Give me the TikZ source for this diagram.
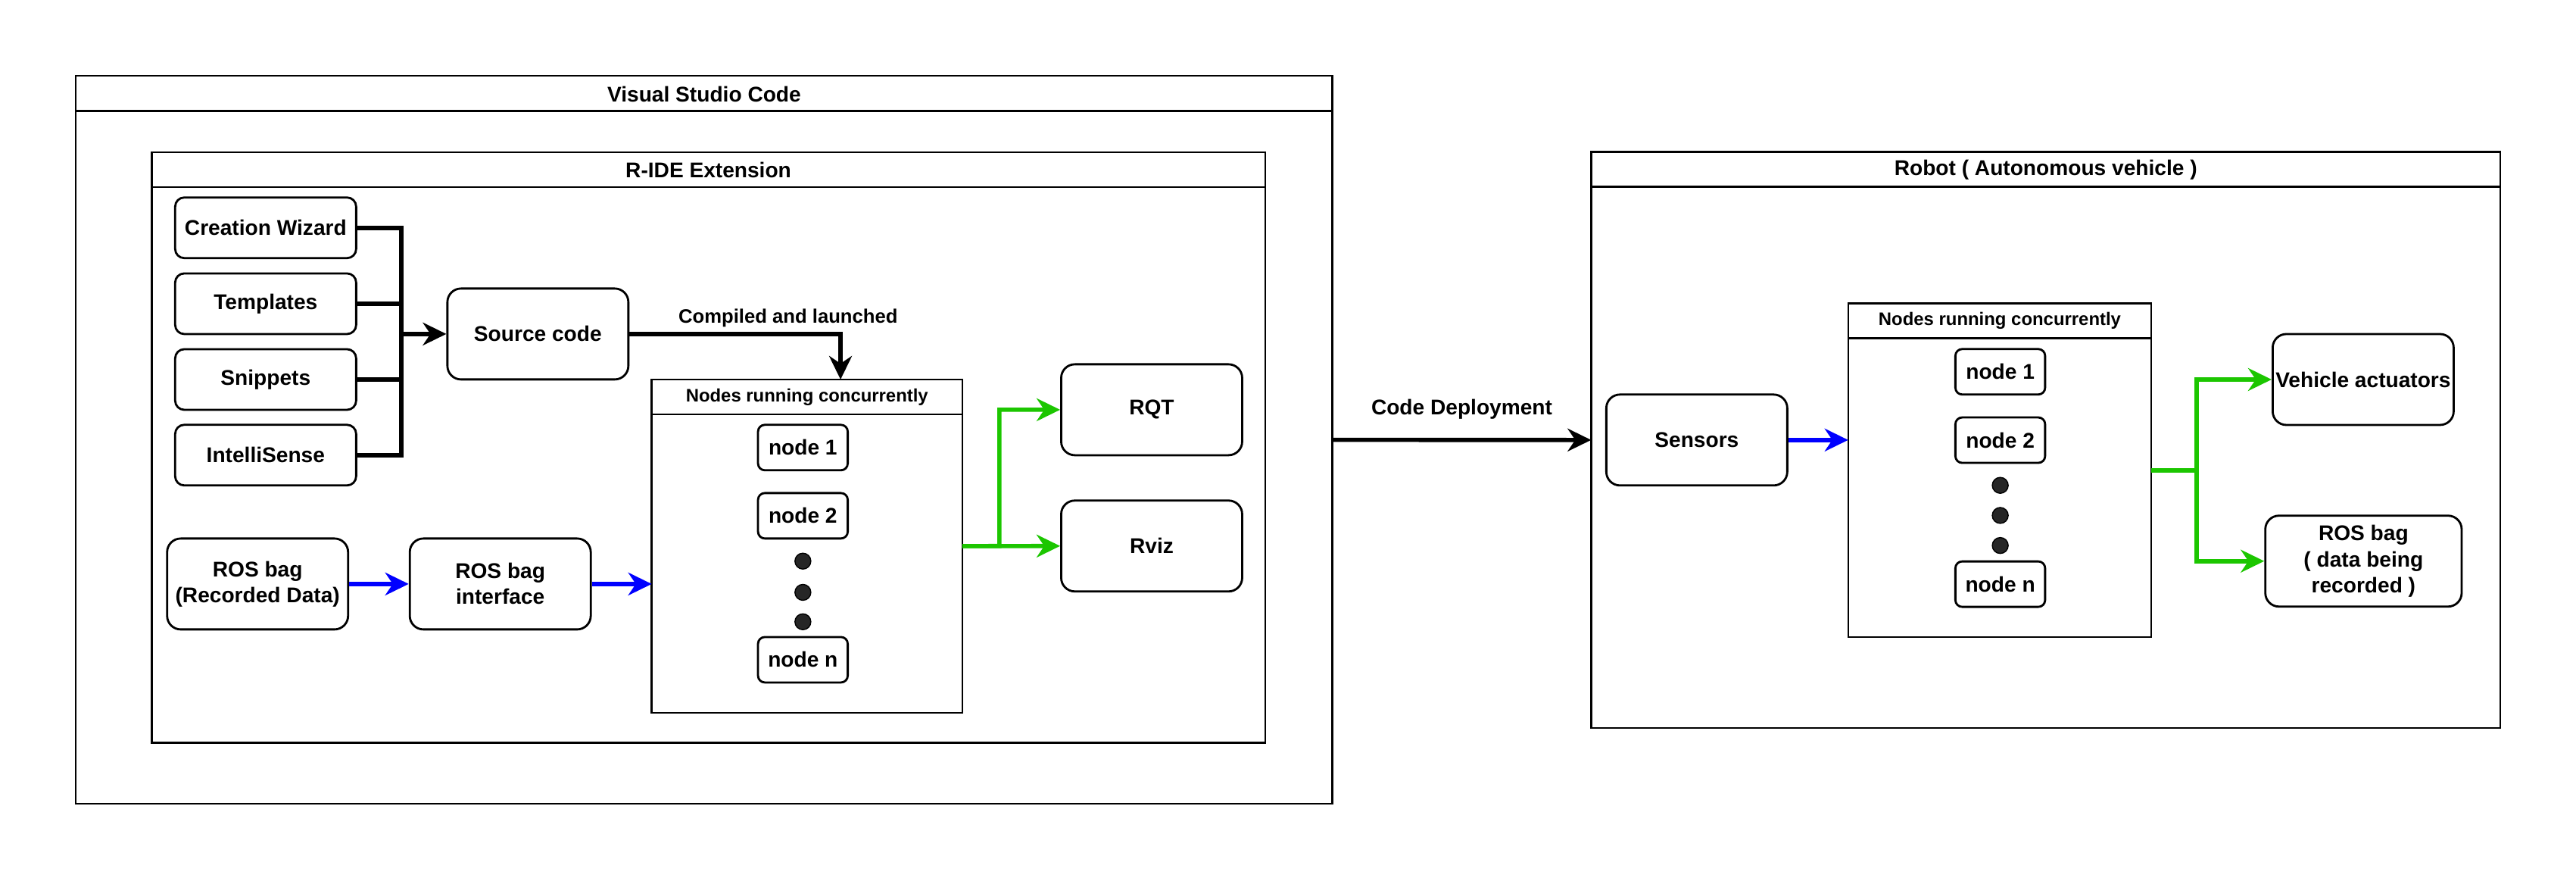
\documentclass[tikz,border=0pt]{standalone}
\usepackage{fontspec}
\setmainfont{Liberation Sans}
\usetikzlibrary{arrows.meta}
\definecolor{arrblue}{RGB}{0,0,255}
\definecolor{arrgreen}{RGB}{28,198,0}

\begin{document}
\begin{tikzpicture}[x=0.21697mm, y=-0.21697mm]
      \tikzstyle{STY1} = [draw, rectangle, rounded corners=1.8mm, line width=0.8pt, minimum width=23.9mm, minimum height=12mm, inner sep=0.2mm, align=center, font=\bfseries\fontsize{8}{9.7}\selectfont]
      \tikzstyle{STY2} = [STY1, rounded corners=1.2mm, minimum height=8mm]
      \tikzstyle{STY3} = [STY1, rounded corners=0.9mm, minimum width=11.85mm, minimum height=6mm]
      \tikzstyle{STY4} = [draw, rectangle, line width=0.7pt, inner sep=0pt, outer sep=0pt]
      \tikzstyle{STY5} = [inner sep=0pt, font=\bfseries\fontsize{8}{9.7}\selectfont]
      \tikzstyle{STY6} = [inner sep=0pt, font=\bfseries\fontsize{6.8}{8}\selectfont]
      \tikzstyle{STY7} = [circle, draw=black, fill=black!85, line width=0.4pt, minimum size=2.1mm, inner sep=0pt]
      \tikzstyle{STY8} = [line width=1.6pt]
      \tikzstyle{STY9} = [STY8, -{Stealth[length=3.1mm, width=3mm, inset=1mm]}]
      \tikzstyle{STY10} = [STY9, arrblue]
      \tikzstyle{STY11} = [STY9, arrgreen]

      \useasboundingbox (0,0) rectangle (1567.96, 535.56);

      %%%%% FRAMES

      \node[STY4, minimum width=165.94mm, minimum height=96.07mm](vsc) at (428.6, 267.6) {};
      \node[STY4, minimum width=147.02mm, minimum height=77.94mm](ride) at (431.2, 272.2) {};
      \node[STY4, minimum width=120.07mm, minimum height=76.07mm](robot) at (1245.2, 267.7) {};
      \node[STY4, minimum width=41.01mm, minimum height=43.98mm](nrcL) at (491.2, 332.25) {};
      \node[STY4, minimum width=40.03mm, minimum height=44.09mm](nrcR) at (1217.2, 286.1) {};

      \draw[STY4] ([yshift=-4.64mm]vsc.north west) -- ([yshift=-4.64mm]vsc.north east);
      \draw[STY4] ([yshift=-4.6mm]ride.north west) -- ([yshift=-4.6mm]ride.north east);
      \draw[STY4] ([yshift=-4.6mm]robot.north west) -- ([yshift=-4.6mm]robot.north east);
      \draw[STY4] ([yshift=-4.6mm]nrcL.north west) -- ([yshift=-4.6mm]nrcL.north east);
      \draw[STY4] ([yshift=-4.6mm]nrcR.north west) -- ([yshift=-4.6mm]nrcR.north east);

      \node[STY5](vsct) at (428.6, 57.3) {Visual Studio Code};
      \node[STY5](ridet) at (431.2, 103.3) {R-IDE Extension};
      \node[STY5](robott) at (1245.2, 103.2) {Robot ( Autonomous vehicle )};
      \node[STY6](nrcLt) at (491.2, 241.5) {Nodes running concurrently};
      \node[STY6](nrcRt) at (1217.2, 195.3) {Nodes running concurrently};

      %%%%% VERTEX

      \node[STY2](cw) at (161.7, 138.6) {Creation Wizard};
      \node[STY2](tmp) at (161.7, 184.8) {Templates};
      \node[STY2](snp) at (161.7, 230.9) {Snippets};
      \node[STY2](isn) at (161.7, 276.9) {IntelliSense};

      \node[STY1](src) at (327.4, 203.2) {Source code};

      \node[STY1](rbr) at (156.8, 355.3) {ROS bag\\(Recorded Data)};
      \node[STY1](rbi) at (304.5, 355.3) {ROS bag\\interface};

      \node[STY3](nL1) at (488.7, 272.3) {node 1};
      \node[STY3](nL2) at (488.7, 313.8) {node 2};
      \node[STY7](dL1) at (488.7, 341.4) {};
      \node[STY7](dL2) at (488.7, 360.4) {};
      \node[STY7](dL3) at (488.7, 378.3) {};
      \node[STY3](nLn) at (488.7, 401.4) {node n};

      \node[STY1](rqt) at (701.0, 249.3) {RQT};
      \node[STY1](rviz) at (701.0, 332.2) {Rviz};

      \node[STY1](sen) at (1032.8, 267.7) {Sensors};

      \node[STY3](nR1) at (1217.5, 226.2) {node 1};
      \node[STY3](nR2) at (1217.5, 267.8) {node 2};
      \node[STY7](dR1) at (1217.5, 295.3) {};
      \node[STY7](dR2) at (1217.5, 313.6) {};
      \node[STY7](dR3) at (1217.5, 331.9) {};
      \node[STY3](nRn) at (1217.5, 355.4) {node n};

      \node[STY1](act) at (1438.4, 230.9) {Vehicle actuators};
      \node[STY1, minimum width=25.93mm](rbd) at (1438.6, 341.4) {ROS bag\\( data being\\recorded )};

      %%%%% EDGES
      \coordinate (bus) at (244.4, 203.2);
      \draw[STY8]  (cw.east) -| (bus);
      \draw[STY8]  (tmp.east) -| (bus);
      \draw[STY8]  (snp.east) -| (bus);
      \draw[STY8]  (isn.east) -| (bus);
      \draw[STY9]  (bus) -- (src.west);

      \draw[STY9]  (src.east) -| ([xshift=4.43mm]nrcL.north);
      \node[STY6, font=\bfseries\fontsize{7.3}{9}\selectfont](cal) at (479.7, 193.6) {Compiled and launched};

      \draw[STY10] (rbr) edge (rbi);
      \draw[STY10] (rbi.east) -- (rbi.east -| nrcL.west);

      \coordinate (gL) at (608.3, 332.2);
      \draw[STY11] (nrcL.east) -- (rviz.west);
      \draw[STY11] (nrcL.east) -- (gL) |- (rqt.west);

      \draw[STY9]  (vsc.east) -- node[STY5, above=2.5mm, midway](cdl) {Code Deployment} (robot.west);

      \draw[STY10] (sen.east) -- (sen.east -| nrcR.west);

      \coordinate (gR) at (1336.9, 286.1);
      \draw[STY11] (nrcR.east) -- (gR) |- (act.west);
      \draw[STY11] (nrcR.east) -- (gR) |- (rbd.west);
\end{tikzpicture}
\end{document}
